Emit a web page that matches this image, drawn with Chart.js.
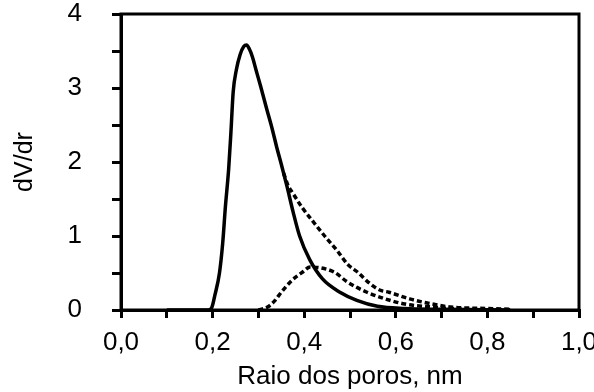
<!DOCTYPE html>
<html>
<head>
<meta charset="utf-8">
<script src="https://cdn.jsdelivr.net/npm/chart.js@4"></script>
<style>
html,body{margin:0;padding:0;background:#fff;}
#wrap{width:594px;height:392px;}
</style>
</head>
<body>
<div id="wrap"><canvas id="c" width="594" height="392"></canvas></div>
<script>
// ---- data ----
const radiusMain = [0.10,0.19,0.198,0.205,0.215,0.222,0.228,0.235,0.240,0.245,0.252,0.260,0.268,0.274,0.280,0.287,0.295,0.305,0.318,0.330,0.340,0.350,0.362,0.376,0.390,0.412,0.440,0.478,0.515,0.560,0.620,0.700,0.850];
const dvdrMain   = [0,0,0.03,0.20,0.50,0.90,1.40,1.90,2.40,2.95,3.25,3.45,3.56,3.58,3.53,3.42,3.24,3.02,2.72,2.45,2.20,1.97,1.68,1.32,1.00,0.68,0.42,0.24,0.13,0.05,0.02,0.01,0];

const radiusSum = [0.355,0.365,0.375,0.396,0.420,0.446,0.471,0.496,0.517,0.543,0.565,0.585,0.630,0.680,0.720,0.800,0.850];
const dvdrSum   = [1.85,1.68,1.58,1.38,1.19,0.99,0.81,0.61,0.51,0.36,0.27,0.24,0.15,0.08,0.04,0.02,0.01];

const radiusSmall = [0.300,0.320,0.335,0.350,0.373,0.396,0.413,0.435,0.466,0.494,0.537,0.572,0.620,0.680,0.750,0.850];
const dvdrSmall   = [0,0.04,0.12,0.24,0.40,0.51,0.58,0.57,0.51,0.38,0.24,0.16,0.08,0.04,0.01,0];

const xTickLabels = ["0,0","0,2","0,4","0,6","0,8","1,0"];
const yTickLabels = ["0","1","2","3","4"];
const xTitle = "Raio dos poros, nm";
const yTitle = "dV/dr";

function pts(xs, ys){ return xs.map((x,i)=>({x:x, y:ys[i]})); }

const FONT = "'Liberation Sans', Arial, sans-serif";

const framePlugin = {
  id: 'frame',
  afterDatasetsDraw(chart){
    const {ctx, chartArea:a} = chart;
    ctx.save();
    ctx.strokeStyle = '#000';
    ctx.lineWidth = 3;
    ctx.strokeRect(a.left, a.top, a.right - a.left, a.bottom - a.top);
    ctx.restore();
  }
};

new Chart(document.getElementById('c'), {
  type: 'line',
  data: {
    datasets: [
      { data: pts(radiusMain, dvdrMain), borderColor:'#000', borderWidth:3.5, pointRadius:0, cubicInterpolationMode:'monotone', fill:false },
      { data: pts(radiusSum, dvdrSum), borderColor:'#000', borderWidth:3.5, borderDash:[5,3], pointRadius:0, cubicInterpolationMode:'monotone', fill:false },
      { data: pts(radiusSmall, dvdrSmall), borderColor:'#000', borderWidth:3.5, borderDash:[5,3], pointRadius:0, cubicInterpolationMode:'monotone', fill:false }
    ]
  },
  options: {
    responsive: false,
    animation: false,
    devicePixelRatio: 1,
    layout: { padding: 0 },
    plugins: { legend:{display:false}, tooltip:{enabled:false} },
    scales: {
      x: {
        type: 'linear', min: 0, max: 1,
        border: { display:true, color:'#000', width:3 },
        grid: { drawOnChartArea:false, drawTicks:true, tickLength:8, tickColor:'#000', tickWidth:3, lineWidth:3, color:'#000' },
        ticks: {
          stepSize: 0.1, autoSkip:false, maxRotation:0, padding:9,
          color:'#000', font:{family:FONT, size:26},
          callback: (v) => { const k = Math.round(v*10); return k % 2 === 0 ? xTickLabels[k/2] : ''; }
        },
        title: { display:true, text:xTitle, color:'#000', font:{family:FONT, size:26}, padding:{top:0,bottom:0} },
        afterFit: (s) => { s.height = 82; s.paddingLeft = 0; s.paddingRight = 15; }
      },
      y: {
        type: 'linear', min: 0, max: 4,
        border: { display:true, color:'#000', width:3 },
        grid: { drawOnChartArea:false, drawTicks:true, tickLength:9, tickColor:'#000', tickWidth:3, lineWidth:3, color:'#000' },
        ticks: {
          stepSize: 0.5, autoSkip:false, padding:30,
          color:'#000', font:{family:FONT, size:26},
          callback: (v) => { const k = Math.round(v*2); return k % 2 === 0 ? yTickLabels[k/2] : ''; }
        },
        title: { display:true, text:yTitle, color:'#000', font:{family:FONT, size:25}, padding:{top:10,bottom:0} },
        afterFit: (s) => { s.width = 121; s.paddingTop = 14; s.paddingBottom = 0; }
      }
    }
  },
  plugins: [framePlugin]
});
</script>
</body>
</html>
